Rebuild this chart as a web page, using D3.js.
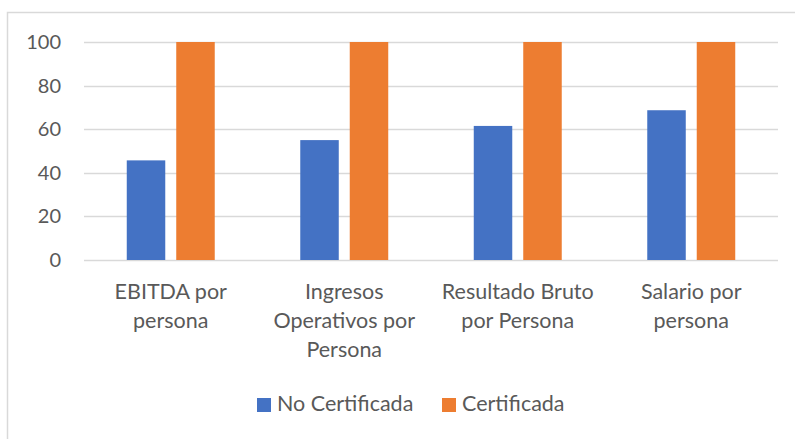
<!DOCTYPE html>
<html>
<head>
<meta charset="utf-8">
<script src="https://cdn.jsdelivr.net/npm/d3@7"></script>
<style>
  html, body { margin: 0; padding: 0; background: #fff; }
  svg text { font-family: Lato, "Open Sans", sans-serif; fill: #595959; }
</style>
</head>
<body>
<svg id="chart"></svg>
<script>
var categories = ["EBITDA por persona", "Ingresos Operativos por Persona", "Resultado Bruto por Persona", "Salario por persona"];
var categoryLines = [
  ["EBITDA por", "persona"],
  ["Ingresos", "Operativos por", "Persona"],
  ["Resultado Bruto", "por Persona"],
  ["Salario por", "persona"]
];
var seriesNames = ["No Certificada", "Certificada"];
var noCertificada = [45.7, 55, 61.5, 68.7];
var certificada = [100, 100, 100, 100];
var yTicks = [0, 20, 40, 60, 80, 100];
var colors = ["#4472c4", "#ed7d31"];

var width = 795, height = 439;
var plot = { left: 84, right: 778, top: 42, bottom: 260 };

var svg = d3.select("#chart").attr("width", width).attr("height", height);

// chart border (only top and left are visible in the frame)
svg.append("rect")
  .attr("x", 7.5).attr("y", 12.5)
  .attr("width", 800).attr("height", 440)
  .attr("fill", "none")
  .attr("stroke", "#d9d9d9")
  .attr("stroke-width", 1.5);

var x = d3.scaleBand().domain(categories).range([plot.left, plot.right]).padding(0);
var xs = d3.scaleBand().domain(seriesNames).range([0, x.bandwidth()])
  .paddingInner(0.222).paddingOuter(0.864);
var y = d3.scaleLinear().domain([0, 100]).range([plot.bottom, plot.top]);

// gridlines
svg.append("g")
  .selectAll("line")
  .data(yTicks)
  .enter()
  .append("line")
  .attr("x1", plot.left).attr("x2", plot.right)
  .attr("y1", function (d) { return Math.round(y(d)) + 0.5; })
  .attr("y2", function (d) { return Math.round(y(d)) + 0.5; })
  .attr("stroke", "#d9d9d9")
  .attr("stroke-width", 1.5);

// y labels
var yaxis = d3.axisLeft(y).tickValues(yTicks).tickSize(0).tickPadding(23);
var gy = svg.append("g").attr("transform", "translate(" + plot.left + ",0)").call(yaxis);
gy.select(".domain").remove();
gy.selectAll("text").style("font-size", "20px").attr("fill", "#595959").style("font-family", "Lato, sans-serif");

// bars
var rows = categories.map(function (c, i) {
  return { cat: c, values: [noCertificada[i], certificada[i]] };
});
var groups = svg.append("g").selectAll("g")
  .data(rows)
  .enter()
  .append("g")
  .attr("transform", function (d) { return "translate(" + x(d.cat) + ",0)"; });

groups.selectAll("rect")
  .data(function (d) {
    return d.values.map(function (v, j) { return { name: seriesNames[j], value: v, k: j }; });
  })
  .enter()
  .append("rect")
  .attr("x", function (d) { return xs(d.name); })
  .attr("width", xs.bandwidth())
  .attr("y", function (d) { return y(d.value); })
  .attr("height", function (d) { return y(0) - y(d.value); })
  .attr("fill", function (d) { return colors[d.k]; });

// category labels
var labels = svg.append("g").selectAll("text")
  .data(categories)
  .enter()
  .append("text")
  .attr("text-anchor", "middle")
  .attr("x", function (d) { return x(d) + x.bandwidth() / 2; })
  .attr("y", 299)
  .style("font-size", "21.5px");
labels.each(function (d, i) {
  var t = d3.select(this);
  categoryLines[i].forEach(function (line, k) {
    t.append("tspan")
      .attr("x", x(d) + x.bandwidth() / 2)
      .attr("dy", k === 0 ? 0 : 29)
      .text(line);
  });
});

// legend
var legendX = [257, 442];
var legend = svg.append("g").selectAll("g")
  .data(seriesNames)
  .enter()
  .append("g")
  .attr("transform", function (d, i) { return "translate(" + legendX[i] + ",398)"; });
legend.append("rect")
  .attr("width", 14).attr("height", 14)
  .attr("fill", function (d, i) { return colors[i]; });
legend.append("text")
  .attr("x", 20).attr("y", 13)
  .style("font-size", "21.5px")
  .text(function (d) { return d; });
</script>
</body>
</html>
